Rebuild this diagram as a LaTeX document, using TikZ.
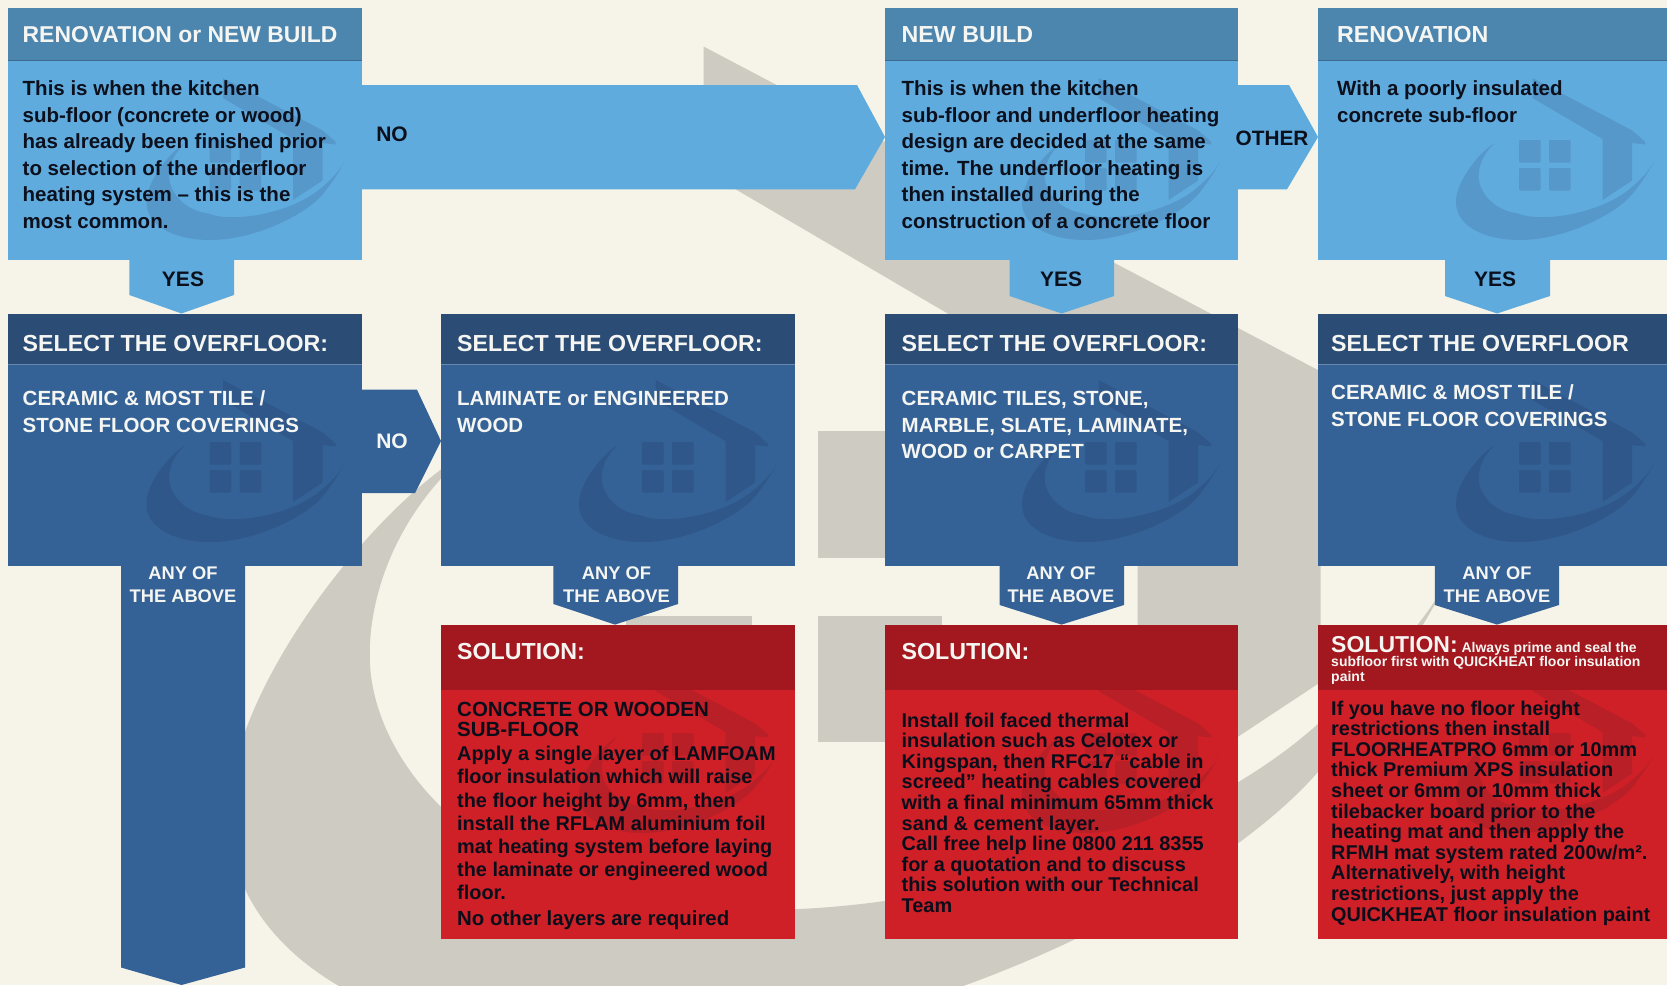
\documentclass[tikz,border=0pt]{standalone}
\usepackage{fontspec}
\setmainfont{Liberation Sans}
\usetikzlibrary{calc}
\definecolor{bgc}{HTML}{F6F4E8}
\definecolor{greyc}{HTML}{CDCBC2}
\definecolor{lh}{HTML}{4C85AE}
\definecolor{lb}{HTML}{5FABDD}
\definecolor{ll}{HTML}{5698C9}
\definecolor{dh}{HTML}{2A4C75}
\definecolor{db}{HTML}{346296}
\definecolor{dl}{HTML}{2F5789}
\definecolor{rh}{HTML}{A3171E}
\definecolor{rb}{HTML}{CF2027}
\definecolor{rl}{HTML}{B81F27}
\definecolor{ink}{HTML}{0C0F1C}
\definecolor{wht}{HTML}{F5F5F2}
\newcommand\logobody[4]{%
 \begin{scope}[shift={(#2,#3)},scale=#4]
  \fill[#1] (13.5,-62) -- (13.5,-42) -- (83.5,-1) -- (83.5,60) -- (113,40.5) -- (113,3) -- (126,4.5) -- (126,1.7) -- (113,-9.6) -- cycle;
  \fill[#1] (135,21) .. controls (130,32) and (120,46) .. (112.4,55.2)
    .. controls (95,75) and (45,100) .. (1,100)
    .. controls (-38,100) and (-64,84) .. (-63,61)
    .. controls (-63,42) and (-40,12) .. (-24,3)
    .. controls (-36,13) and (-41,27) .. (-40.3,38)
    .. controls (-39.4,52) and (-26,70) .. (-2,73.3)
    .. controls (25,84) and (85,72) .. (112.4,47.4)
    .. controls (120,41) and (130,32) .. (135,21) -- cycle;
 \end{scope}}
\newcommand\logosmall[3]{%
 \logobody{#1}{#2}{#3}{1}
 \begin{scope}[shift={(#2,#3)}]
  \foreach \u in {0,30} \foreach \v in {0,28} {\fill[#1,rounded corners=1.2pt] (\u,\v) rectangle ++(21.5,22.5);}
 \end{scope}}
\newcommand\boxlogo[4]{\begin{scope}\clip (#2.north west) rectangle (#2.south east);\logosmall{#1}{#3}{#4}\end{scope}}
\tikzset{
 panel/.style={anchor=north west,inner sep=0pt,outer sep=0pt,minimum width=#1},
 headtxt/.style={anchor=west,inner sep=0pt,text=wht,font=\bfseries\fontsize{23.2}{28}\selectfont},
 lbltext/.style={anchor=north west,inner sep=0pt,align=left,text=ink,font=\bfseries\fontsize{20.5}{26.5}\selectfont},
 dtext/.style={anchor=north west,inner sep=0pt,align=left,text=wht,font=\bfseries\fontsize{20.5}{26.5}\selectfont},
 rtext/.style={anchor=north west,inner sep=0pt,align=left,text=ink!92!black,font=\bfseries\fontsize{19.9}{23.2}\selectfont},
 rtight/.style={anchor=north west,inner sep=0pt,align=left,text=ink!92!black,font=\bfseries\fontsize{19.9}{20.6}\selectfont},
 tagtxt/.style={inner sep=0pt,text=ink,font=\bfseries\fontsize{21}{24}\selectfont},
 anytag/.style={inner sep=0pt,align=center,text=wht,font=\bfseries\fontsize{18.3}{23.5}\selectfont},
}
\begin{document}
\begin{tikzpicture}[x=1pt,y=-1pt]
\useasboundingbox (0,0) rectangle (1667,985);
\fill[bgc] (0,0) rectangle (1667,985);
\logobody{greyc}{620}{431}{6.2}
\fill[greyc] (626,431) rectangle (752,558);
\fill[greyc] (626,616) rectangle (752,742);
\fill[greyc] (818,431) rectangle (942,558);
\fill[greyc] (818,616) rectangle (942,742);
% top row
\node[panel=353.5,minimum height=52,fill=lh] (th1) at (8,8) {};
\node[panel=353.5,minimum height=199.5,fill=lb] (l1) at (8,60) {};
\node[panel=353,minimum height=52,fill=lh] (th3) at (885,8) {};
\node[panel=353,minimum height=199.5,fill=lb] (l3) at (885,60) {};
\node[panel=349,minimum height=52,fill=lh] (th4) at (1318,8) {};
\node[panel=349,minimum height=199.5,fill=lb] (l4) at (1318,60) {};
\foreach \n in {1,3,4}{\draw[line width=.8pt,color=lh!80!black] (th\n.south west) -- (th\n.south east);}
% dark row
\foreach \n/\x/\w in {1/8/353.5,2/441/354,3/885/353,4/1318/349}{
 \node[panel=\w,minimum height=51.2,fill=dh] (dh\n) at (\x,313.5) {};
 \node[panel=\w,minimum height=201,fill=db] (db\n) at (\x,364.7) {};
 \draw[line width=.8pt,color=db!75!white] (dh\n.south west) -- (dh\n.south east);
}
% red row
\foreach \n/\x/\w in {2/441/354,3/885/353,4/1318/349}{
 \node[panel=\w,minimum height=65.4,fill=rh] (rh\n) at (\x,624.6) {};
 \node[panel=\w,minimum height=248.5,fill=rb] (rb\n) at (\x,690) {};
}
% block arrows
\fill[lb] ($(l1.north east)+(0,25)$) -- (857,85) -- ($(l3.north west)+(0,77)$) -- (855,189.3) -- ($(l1.north east)+(0,129.3)$) -- cycle;
\fill[lb] ($(l3.north east)+(0,25)$) -- (1289,85) -- ($(l4.north west)+(0,77)$) -- (1287,189.3) -- ($(l3.north east)+(0,129.3)$) -- cycle;
\fill[db] ($(db1.north east)+(0,25)$) -- (417,389.7) -- ($(db2.north west)+(0,76.3)$) -- (415,493) -- ($(db1.north east)+(0,128.3)$) -- cycle;
\fill[lb] (129.3,259) -- (234,259) -- (234,295) -- ($(dh1.north west)+(173.5,0)$) -- (129.3,295) -- cycle;
\fill[lb] (1009.6,259) -- (1114,259) -- (1114,296) -- ($(dh3.north west)+(176.5,0)$) -- (1009.6,296) -- cycle;
\fill[lb] (1445,259) -- (1550,259) -- (1550,296) -- ($(dh4.north west)+(179,0)$) -- (1445,296) -- cycle;
\coordinate (bottomtip) at (181.5,985);
\fill[db] (121,565) -- (245,565) -- (245,967.5) -- (bottomtip) -- (121,967.5) -- cycle;
\fill[db] (553.4,565) -- (678,565) -- (678,604) -- ($(rh2.north west)+(174,0)$) -- (553.4,604) -- cycle;
\fill[db] (999.6,565) -- (1124,565) -- (1124,605) -- ($(rh3.north west)+(176.5,0)$) -- (999.6,605) -- cycle;
\fill[db] (1434.8,565) -- (1559,565) -- (1559,605) -- ($(rh4.north west)+(179,0)$) -- (1434.8,605) -- cycle;
% watermarks
\boxlogo{ll}{l1}{209.5}{140}
\boxlogo{ll}{l3}{1085}{140}
\boxlogo{ll}{l4}{1519}{140}
\boxlogo{dl}{db1}{209.5}{442}
\boxlogo{dl}{db2}{642}{442}
\boxlogo{dl}{db3}{1085}{442}
\boxlogo{dl}{db4}{1519}{442}
\boxlogo{rl}{rb2}{642}{733}
\boxlogo{rl}{rb3}{1085}{733}
\boxlogo{rl}{rb4}{1519}{733}
% header texts
\node[headtxt,font=\bfseries\fontsize{22.9}{28}\selectfont] (t1) at (22.5,35) {RENOVATION or NEW BUILD};
\node[headtxt] (t3) at (901.5,35) {NEW BUILD};
\node[headtxt] (t4) at (1337,35) {RENOVATION};
\node[headtxt] (s1) at (22.5,344) {SELECT THE OVERFLOOR:};
\node[headtxt] (s2) at (457,344) {SELECT THE OVERFLOOR:};
\node[headtxt] (s3) at (901.5,344) {SELECT THE OVERFLOOR:};
\node[headtxt] (s4) at (1331,344) {SELECT THE OVERFLOOR};
\node[headtxt] (so2) at (457,652) {SOLUTION:};
\node[headtxt] (so3) at (901.5,652) {SOLUTION:};
\node[anchor=north west,inner sep=0pt,align=left,text=wht,font=\bfseries\fontsize{14}{14.4}\selectfont] (so4) at (1331,636) {{\fontsize{23}{14.4}\selectfont SOLUTION:} Always prime and seal the\\subfloor first with QUICKHEAT floor insulation\\paint};
% light body texts
\node[lbltext] (x1) at (22.5,80.5) {This is when the kitchen\\sub-floor (concrete or wood)\\has already been finished prior\\to selection of the underfloor\\heating system – this is the\\most common.};
\node[lbltext] (x3) at (901.5,80.5) {This is when the kitchen\\sub-floor and underfloor heating\\design are decided at the same\\time. The underfloor heating is\\then installed during the\\construction of a concrete floor};
\node[lbltext] (x4) at (1337,80.5) {With a poorly insulated\\concrete sub-floor};
% dark body texts
\node[dtext] (d1) at (22.5,390.5) {CERAMIC \& MOST TILE /\\STONE FLOOR COVERINGS};
\node[dtext] (d2) at (457,391) {LAMINATE or ENGINEERED\\WOOD};
\node[dtext] (d3) at (901.5,391) {CERAMIC TILES, STONE,\\MARBLE, SLATE, LAMINATE,\\WOOD or CARPET};
\node[dtext] (d4) at (1331,384.5) {CERAMIC \& MOST TILE /\\STONE FLOOR COVERINGS};
% red body texts
\node[rtight,font=\bfseries\fontsize{20.5}{20.6}\selectfont] (r2a) at (457,701.5) {CONCRETE OR WOODEN\\SUB-FLOOR};
\node[rtext] (r2b) at (457,746) {Apply a single layer of LAMFOAM\\floor insulation which will raise\\the floor height by 6mm, then\\install the RFLAM aluminium foil\\mat heating system before laying\\the laminate or engineered wood\\floor.};
\node[rtext,font=\bfseries\fontsize{20.4}{23.2}\selectfont] (r2c) at (457,911) {No other layers are required};
\node[rtight] (r3) at (901.5,712.5) {Install foil faced thermal\\insulation such as Celotex or\\Kingspan, then RFC17 “cable in\\screed” heating cables covered\\with a final minimum 65mm thick\\sand \& cement layer.\\Call free help line 0800 211 8355\\for a quotation and to discuss\\this solution with our Technical\\Team};
\node[rtight] (r4) at (1331,700.5) {If you have no floor height\\restrictions then install\\FLOORHEATPRO 6mm or 10mm\\thick Premium XPS insulation\\sheet or 6mm or 10mm thick\\tilebacker board prior to the\\heating mat and then apply the\\RFMH mat system rated 200w/m².\\Alternatively, with height\\restrictions, just apply the\\QUICKHEAT floor insulation paint};
% arrow tags
\node[tagtxt] (no1) at (392,134) {NO};
\node[tagtxt,text=wht] (no2) at (392,441.5) {NO};
\node[tagtxt,font=\bfseries\fontsize{20.8}{24}\selectfont] (oth) at (1272,138) {OTHER};
\node[tagtxt] (y1) at (183,279) {YES};
\node[tagtxt] (y3) at (1061,279) {YES};
\node[tagtxt] (y4) at (1495,279) {YES};
\node[anytag] (a1) at (183,584.5) {ANY OF\\THE ABOVE};
\node[anytag] (a2) at (616.5,584.5) {ANY OF\\THE ABOVE};
\node[anytag] (a3) at (1061,584.5) {ANY OF\\THE ABOVE};
\node[anytag] (a4) at (1497,584.5) {ANY OF\\THE ABOVE};
\end{tikzpicture}
\end{document}
